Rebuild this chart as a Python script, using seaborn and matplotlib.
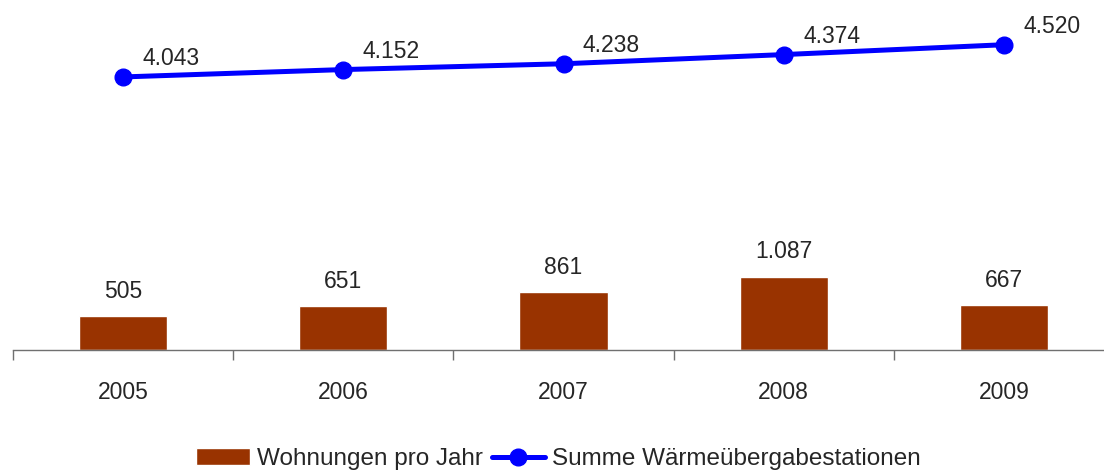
import matplotlib
matplotlib.use('Agg')
import matplotlib.pyplot as plt
import seaborn as sns
import numpy as np

# data
years = ['2005', '2006', '2007', '2008', '2009']
wohnungen = [505, 651, 861, 1087, 667]
stationen = [4043, 4152, 4238, 4374, 4520]

bar_color = '#993300'
line_color = '#0000FF'


def de_fmt(v):
    # German thousands separator
    return f'{v:,}'.replace(',', '.')


sns.set_style('white')
plt.rcParams['font.family'] = ['Liberation Sans', 'DejaVu Sans']

fig = plt.figure(figsize=(11.04, 4.73), dpi=100)
ax = fig.add_axes([13 / 1104, 123 / 473, 1101 / 1104, 335 / 473])

x = np.arange(len(years))
sns.barplot(x=years, y=wohnungen, color=bar_color, width=0.4, saturation=1,
            ax=ax, legend=False)
line, = ax.plot(x, stationen, color=line_color, lw=3.6, marker='o', markersize=12,
                zorder=3)

for xi, v in zip(x, wohnungen):
    ax.annotate(de_fmt(v), (xi, v), xytext=(0, 9.5), textcoords='offset points',
                ha='center', va='bottom', fontsize=16.5)
for xi, v in zip(x, stationen):
    ax.annotate(de_fmt(v), (xi, v), xytext=(14, 5), textcoords='offset points',
                ha='left', va='bottom', fontsize=16.5)

ax.set_xlim(-0.5, len(years) - 0.5)
ax.set_ylim(0, 4960)
ax.set_yticks([])
ax.set_ylabel('')
ax.set_xlabel('')

for s in ['top', 'right', 'left']:
    ax.spines[s].set_visible(False)
ax.spines['bottom'].set_color('#707070')
ax.spines['bottom'].set_linewidth(1)

ax.set_xticks(x)
ax.set_xticklabels(years, fontsize=16.5)
ax.set_xticks(np.arange(-0.5, len(years), 1), minor=True)
ax.tick_params(axis='x', which='major', length=0, pad=22)
ax.tick_params(axis='x', which='minor', length=7, width=1, color='#707070',
               direction='out', bottom=True)

bar_patch = ax.patches[0]
fig.legend([bar_patch, line], ['Wohnungen pro Jahr', 'Summe Wärmeübergabestationen'],
           loc='lower center', bbox_to_anchor=(0.506, -0.04),
           ncol=2, frameon=False, fontsize=17.5, handlelength=2.2,
           handletextpad=0.3, columnspacing=0.37)

fig.savefig('out.png', dpi=100)
